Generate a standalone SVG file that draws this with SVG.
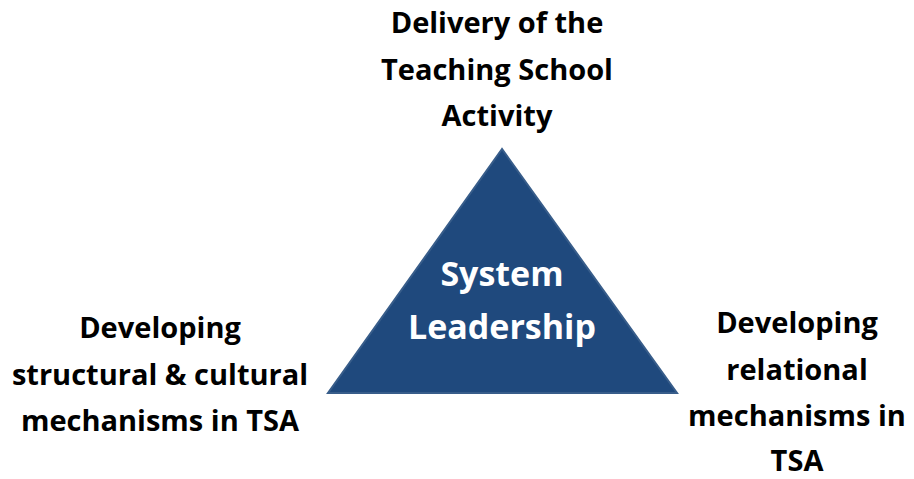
<svg xmlns="http://www.w3.org/2000/svg" width="914" height="479" viewBox="0 0 914 479">
<style>
.lbl{font-family:"Open Sans","Liberation Sans",sans-serif;font-weight:bold;font-size:29px;fill:#000;text-anchor:middle}
.in{font-family:"Open Sans","Liberation Sans",sans-serif;font-weight:bold;font-size:34px;fill:#fff;text-anchor:middle}
</style>
<rect width="914" height="479" fill="#fff"/>
<g id="triangle">
<polygon points="502,149 328,393 677,393" fill="#1F497D" stroke="#385D8A" stroke-width="2"/>
<text class="in" x="502" y="286">System</text>
<text class="in" x="502" y="339">Leadership</text>
</g>
<g id="top">
<text class="lbl" x="497" y="33">Delivery of the</text>
<text class="lbl" x="497" y="80">Teaching School</text>
<text class="lbl" x="497" y="126">Activity</text>
</g>
<g id="left">
<text class="lbl" x="160" y="338">Developing</text>
<text class="lbl" x="160" y="385">structural &amp; cultural</text>
<text class="lbl" x="160" y="431">mechanisms in TSA</text>
</g>
<g id="right">
<text class="lbl" x="797" y="333">Developing</text>
<text class="lbl" x="797" y="380">relational</text>
<text class="lbl" x="797" y="426">mechanisms in</text>
<text class="lbl" x="797" y="471">TSA</text>
</g>
</svg>
